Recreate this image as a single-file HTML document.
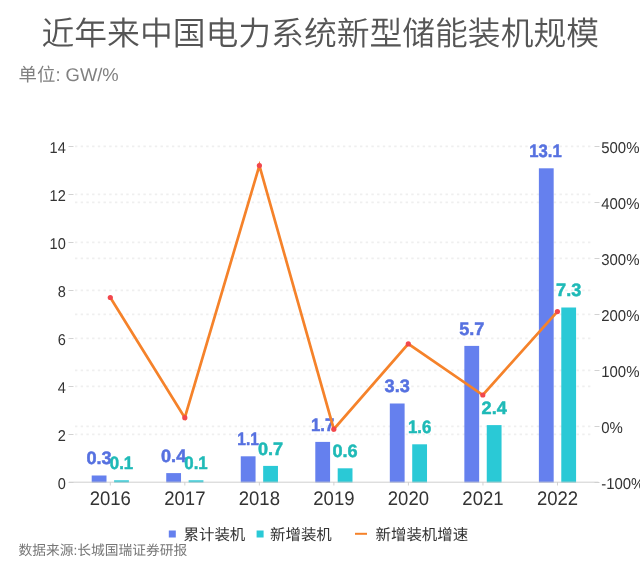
<!DOCTYPE html>
<html lang="zh-CN">
<head>
<meta charset="utf-8">
<title>近年来中国电力系统新型储能装机规模</title>
<style>
html,body{margin:0;padding:0;background:#fff;}
body{width:640px;height:574px;overflow:hidden;position:relative;font-family:"Liberation Sans", "Noto Sans CJK SC", sans-serif;}
svg{position:absolute;left:0;top:0;display:block;}
svg text{font-family:"Liberation Sans", "Noto Sans CJK SC", sans-serif;text-rendering:geometricPrecision;}
.t{font-size:32.8px;fill:#555;font-weight:350;text-anchor:middle;}
.sub{font-size:18.4px;fill:#808080;}
.ax{font-size:15.7px;fill:#333;}
.xl{font-size:19.6px;fill:#333;}
.lg{font-size:15.45px;fill:#333;}
.src{font-size:13.75px;fill:#777;}
.dl{font-family:"Liberation Sans",sans-serif;font-weight:bold;font-size:18px;text-anchor:middle;stroke-width:0.5px;stroke-linejoin:round;}
</style>
</head>
<body>
<svg width="640" height="574" viewBox="0 0 640 574">
<rect width="640" height="574" fill="#fff"/>
<text class="t" x="320.3" y="45">近年来中国电力系统新型储能装机规模</text>
<text class="sub" x="18.6" y="81">单位: GW/%</text>
<g stroke="#efefef" stroke-width="1.8" stroke-dasharray="2.4 3.3" fill="none">
<line x1="75" y1="146.3" x2="592" y2="146.3"/>
<line x1="75" y1="194.3" x2="592" y2="194.3"/>
<line x1="75" y1="242.3" x2="592" y2="242.3"/>
<line x1="75" y1="290.3" x2="592" y2="290.3"/>
<line x1="75" y1="338.3" x2="592" y2="338.3"/>
<line x1="75" y1="386.3" x2="592" y2="386.3"/>
<line x1="75" y1="434.3" x2="592" y2="434.3"/>
<line x1="75" y1="202.3" x2="592" y2="202.3"/>
<line x1="75" y1="258.3" x2="592" y2="258.3"/>
<line x1="75" y1="314.3" x2="592" y2="314.3"/>
<line x1="75" y1="370.3" x2="592" y2="370.3"/>
<line x1="75" y1="426.3" x2="592" y2="426.3"/>
</g>
<g stroke="#d2d2d2" stroke-width="1" fill="none">
<line x1="68.5" y1="146.5" x2="73.5" y2="146.5"/>
<line x1="68.5" y1="194.5" x2="73.5" y2="194.5"/>
<line x1="68.5" y1="242.5" x2="73.5" y2="242.5"/>
<line x1="68.5" y1="290.5" x2="73.5" y2="290.5"/>
<line x1="68.5" y1="338.5" x2="73.5" y2="338.5"/>
<line x1="68.5" y1="386.5" x2="73.5" y2="386.5"/>
<line x1="68.5" y1="434.5" x2="73.5" y2="434.5"/>
<line x1="68.5" y1="482.5" x2="73.5" y2="482.5"/>
<line x1="594.5" y1="146.5" x2="599.5" y2="146.5"/>
<line x1="594.5" y1="202.5" x2="599.5" y2="202.5"/>
<line x1="594.5" y1="258.5" x2="599.5" y2="258.5"/>
<line x1="594.5" y1="314.5" x2="599.5" y2="314.5"/>
<line x1="594.5" y1="370.5" x2="599.5" y2="370.5"/>
<line x1="594.5" y1="426.5" x2="599.5" y2="426.5"/>
<line x1="594.5" y1="482.5" x2="599.5" y2="482.5"/>
<line x1="110.3" y1="482" x2="110.3" y2="485.5"/>
<line x1="184.83" y1="482" x2="184.83" y2="485.5"/>
<line x1="259.36" y1="482" x2="259.36" y2="485.5"/>
<line x1="333.89" y1="482" x2="333.89" y2="485.5"/>
<line x1="408.42" y1="482" x2="408.42" y2="485.5"/>
<line x1="482.95" y1="482" x2="482.95" y2="485.5"/>
<line x1="557.48" y1="482" x2="557.48" y2="485.5"/>
</g>
<g class="ax" text-anchor="end">
<text transform="translate(65.8,153.1) scale(0.928,1)">14</text>
<text transform="translate(65.8,201.1) scale(0.928,1)">12</text>
<text transform="translate(65.8,249.1) scale(0.928,1)">10</text>
<text transform="translate(65.8,297.1) scale(0.928,1)">8</text>
<text transform="translate(65.8,345.1) scale(0.928,1)">6</text>
<text transform="translate(65.8,393.1) scale(0.928,1)">4</text>
<text transform="translate(65.8,441.1) scale(0.928,1)">2</text>
<text transform="translate(65.8,489.1) scale(0.928,1)">0</text>
</g>
<g class="ax" text-anchor="start">
<text transform="translate(601.2,153.1) scale(0.953,1)">500%</text>
<text transform="translate(601.2,209.1) scale(0.953,1)">400%</text>
<text transform="translate(601.2,265.1) scale(0.953,1)">300%</text>
<text transform="translate(601.2,321.1) scale(0.953,1)">200%</text>
<text transform="translate(601.2,377.1) scale(0.953,1)">100%</text>
<text transform="translate(601.2,433.1) scale(0.953,1)">0%</text>
<text transform="translate(601.2,489.1) scale(0.953,1)">-100%</text>
</g>
<g fill="#6580ee">
<rect x="91.7" y="475.5" width="14.8" height="7.2"/>
<rect x="166.23" y="473.1" width="14.8" height="9.6"/>
<rect x="240.76" y="456.3" width="14.8" height="26.4"/>
<rect x="315.29" y="441.9" width="14.8" height="40.8"/>
<rect x="389.82" y="403.5" width="14.8" height="79.2"/>
<rect x="464.35" y="345.9" width="14.8" height="136.8"/>
<rect x="538.88" y="168.3" width="14.8" height="314.4"/>
</g>
<g fill="#2ac9d6">
<rect x="114.1" y="480.3" width="14.8" height="2.4"/>
<rect x="188.63" y="480.3" width="14.8" height="2.4"/>
<rect x="263.16" y="465.9" width="14.8" height="16.8"/>
<rect x="337.69" y="468.3" width="14.8" height="14.4"/>
<rect x="412.22" y="444.3" width="14.8" height="38.4"/>
<rect x="486.75" y="425.1" width="14.8" height="57.6"/>
<rect x="561.28" y="307.5" width="14.8" height="175.2"/>
</g>
<line x1="69" y1="482.2" x2="598.5" y2="482.2" stroke="#cfcfcf" stroke-width="1"/>
<g class="dl" fill="#5671e0" stroke="#5671e0">
<text x="99.1" y="464.2" textLength="25.2" lengthAdjust="spacingAndGlyphs">0.3</text>
<text x="173.63" y="461.8" textLength="25.2" lengthAdjust="spacingAndGlyphs">0.4</text>
<text x="248.16" y="445" textLength="21.6" lengthAdjust="spacingAndGlyphs">1.1</text>
<text x="322.69" y="430.6" textLength="23.4" lengthAdjust="spacingAndGlyphs">1.7</text>
<text x="397.22" y="392.2" textLength="25.2" lengthAdjust="spacingAndGlyphs">3.3</text>
<text x="471.75" y="334.6" textLength="25.2" lengthAdjust="spacingAndGlyphs">5.7</text>
<text x="545.48" y="157" textLength="32.4" lengthAdjust="spacingAndGlyphs">13.1</text>
</g>
<g class="dl" fill="#1fbab7" stroke="#1fbab7">
<text x="121.5" y="469" textLength="23.4" lengthAdjust="spacingAndGlyphs">0.1</text>
<text x="196.03" y="469" textLength="23.4" lengthAdjust="spacingAndGlyphs">0.1</text>
<text x="270.56" y="454.6" textLength="25.2" lengthAdjust="spacingAndGlyphs">0.7</text>
<text x="345.09" y="457" textLength="25.2" lengthAdjust="spacingAndGlyphs">0.6</text>
<text x="419.62" y="433" textLength="23.4" lengthAdjust="spacingAndGlyphs">1.6</text>
<text x="494.15" y="413.8" textLength="25.2" lengthAdjust="spacingAndGlyphs">2.4</text>
<text x="568.68" y="296.2" textLength="25.2" lengthAdjust="spacingAndGlyphs">7.3</text>
</g>
<polyline fill="none" stroke="#f5822a" stroke-width="2.7" stroke-linejoin="miter" points="110.3,297.5 184.8,417.7 259.4,165.6 333.8,429.2 408.3,343.9 482.8,395 557.4,311.6"/>
<g fill="#f2474d">
<circle cx="110.3" cy="297.5" r="2.6"/>
<circle cx="184.8" cy="417.7" r="2.6"/>
<circle cx="259.4" cy="165.6" r="2.6"/>
<circle cx="333.8" cy="429.2" r="2.6"/>
<circle cx="408.3" cy="343.9" r="2.6"/>
<circle cx="482.8" cy="395" r="2.6"/>
<circle cx="557.4" cy="311.6" r="2.6"/>
</g>
<g class="xl" text-anchor="middle">
<text transform="translate(110.3,505.2) scale(0.945,1)">2016</text>
<text transform="translate(184.83,505.2) scale(0.945,1)">2017</text>
<text transform="translate(259.36,505.2) scale(0.945,1)">2018</text>
<text transform="translate(333.89,505.2) scale(0.945,1)">2019</text>
<text transform="translate(408.42,505.2) scale(0.945,1)">2020</text>
<text transform="translate(482.95,505.2) scale(0.945,1)">2021</text>
<text transform="translate(557.48,505.2) scale(0.945,1)">2022</text>
</g>
<rect x="168.8" y="530.5" width="7" height="7" fill="#6580ee"/>
<text class="lg" x="183.5" y="539.6">累计装机</text>
<rect x="256.6" y="530.5" width="7" height="7" fill="#2ac9d6"/>
<text class="lg" x="270" y="539.6">新增装机</text>
<line x1="355" y1="533.8" x2="367" y2="533.8" stroke="#f5822a" stroke-width="2"/>
<text class="lg" x="375.5" y="539.6">新增装机增速</text>
<text class="src" x="18.5" y="555.4">数据来源:长城国瑞证券研报</text>
</svg>
</body>
</html>
